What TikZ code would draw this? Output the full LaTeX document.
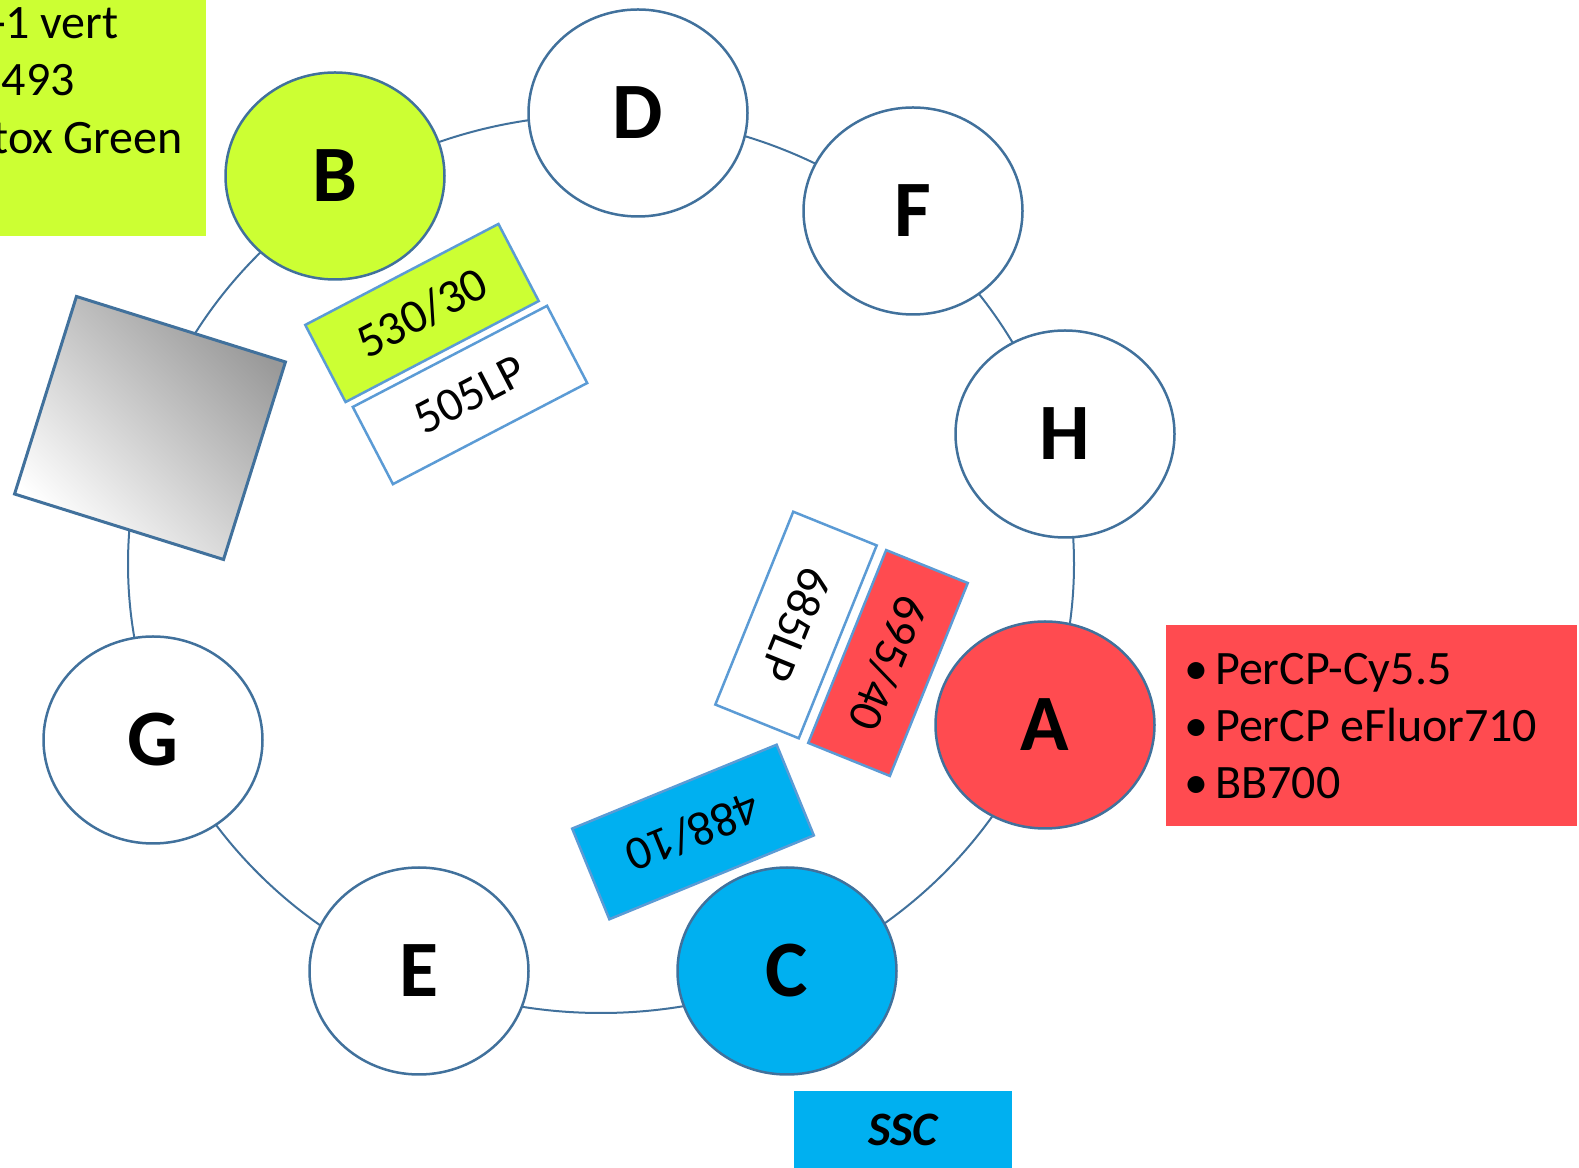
\documentclass[tikz,border=0pt]{standalone}
\usepackage{fontspec}
\setmainfont{Carlito}
\usetikzlibrary{shapes.geometric}
\definecolor{ringline}{HTML}{41719C}
\definecolor{filterline}{HTML}{5B9BD5}
\definecolor{lime}{HTML}{CCFF33}
\definecolor{laserred}{HTML}{FF4B50}
\definecolor{sky}{HTML}{00B0F0}
\newcommand{\gap}{\hspace{10pt}}

\begin{document}
\begin{tikzpicture}[x=1pt,y=1pt,
  detector/.style={ellipse,draw=ringline,line width=2.5pt,fill=white,minimum width=219,minimum height=207,inner sep=0pt,font=\fontsize{80}{80}\selectfont\bfseries},
  filter/.style={rectangle,draw=filterline,line width=2.5pt,fill=white,inner sep=0pt,minimum width=218,minimum height=87,font=\fontsize{48}{48}\selectfont},
  mirror/.style={rectangle,draw=ringline,line width=3pt,minimum width=219,minimum height=207,bottom color=white,top color=gray!80,shading angle=-45},
  legend/.style={rectangle,inner sep=0pt,font=\fontsize{48}{57.4}\selectfont,align=left}]
  \useasboundingbox (0,0) rectangle (1579,1167);
  \clip (0,0) rectangle (1579,1167);
  % ring
  \draw[ringline,line width=2pt] (601,603) ellipse [x radius=473,y radius=449];
  \node[mirror,rotate=-17.4] (M) at (150,739) {};
  % detectors
  \path
  node[detector] (D) at (638,1054) {D}
  node[detector,fill=lime] (B) at (335,991) {B}
  node[detector] (F) at (913,956) {F}
  node[detector] (H) at (1065,733) {H}
  node[detector,fill=laserred] (A) at (1045,442) {A}
  node[detector,fill=sky] (C) at (787,196) {C}
  node[detector] (E) at (419,196) {E}
  node[detector] (G) at (153,427) {G}
  ;
  % filters
  \path
  node[filter,fill=lime,rotate=27.6] (f530) at (422,854) {530/30}
  node[filter,rotate=27.5,minimum width=219] (f505) at (470,772) {505LP}
  node[filter,rotate=-112,minimum width=208,minimum height=90] (f685) at (796,542) {685LP}
  node[filter,fill=laserred,rotate=-112,minimum width=208,minimum height=88] (f695) at (888,504) {695/40}
  node[filter,fill=sky,rotate=202.3,minimum width=221,minimum height=98] (f488) at (693,335) {488/10}
  ;
  % legends
  \node[legend,fill=lime,anchor=east,minimum height=311,text width=194,inner xsep=10pt] (legB) at (206,1086.5)
    {\mbox{\hspace*{4pt}\llap{-}1\gap vert}\\\mbox{493}\\\mbox{\hspace*{-9pt}tox\gap Green}};
  \node[legend,fill=laserred,anchor=north west,minimum height=201,text width=375,inner xsep=18pt] (legA) at (1166,541.7)
    {\mbox{\makebox[31pt][l]{\textbullet}PerCP-Cy5.5}\\\mbox{\makebox[31pt][l]{\textbullet}PerCP\gap eFluor710}\\\mbox{\makebox[31pt][l]{\textbullet}BB700}};
  \node[legend,fill=sky,minimum width=218,minimum height=77,font=\fontsize{48}{48}\selectfont\bfseries\itshape] (legC) at (903,37) {SSC};
\end{tikzpicture}
\end{document}
